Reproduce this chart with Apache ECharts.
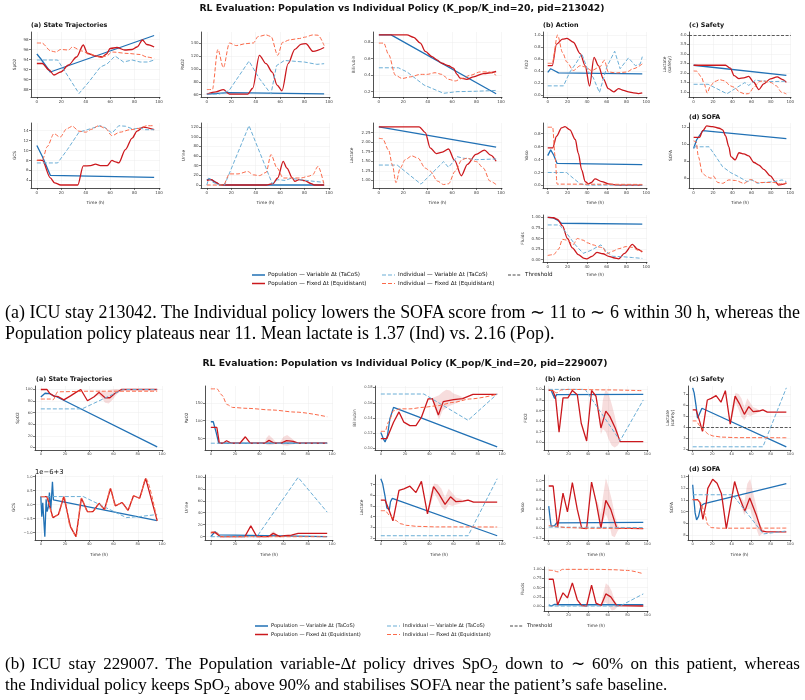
<!DOCTYPE html>
<html>
<head>
<meta charset="utf-8">
<title>RL Evaluation: Population vs Individual Policy</title>
<script src="https://cdn.jsdelivr.net/npm/echarts@6/dist/echarts.min.js"></script>
<style>
  body { margin: 0; background: #fff; }
  #wrap { position: relative; width: 805px; height: 700px; }
  #main { position: absolute; left: 0; top: 0; width: 805px; height: 700px; }
  .cap { position: absolute; left: 5px; width: 795px; font-family: "Liberation Serif", "Times New Roman", serif;
         font-size: 17px; line-height: 20.5px; color: #000; }
  .cap .l1 { white-space: nowrap; text-align: justify; text-align-last: justify; }
  .cap .l2 { white-space: nowrap; }
  .cap sub { font-size: 0.7em; line-height: 0; vertical-align: -0.3em; }
</style>
</head>
<body>
<div id="wrap">
  <div id="main"></div>
  <div class="cap" style="top:302px; font-size:17.9px">
    <div class="l1">(a) ICU stay 213042. The Individual policy lowers the SOFA score from ∼ 11 to ∼ 6 within 30 h, whereas the</div>
    <div class="l2">Population policy plateaus near 11. Mean lactate is 1.37 (Ind) vs. 2.16 (Pop).</div>
  </div>
  <div class="cap" style="top:654px">
    <div class="l1">(b) ICU stay 229007. The Population variable-Δ<i>t</i> policy drives SpO<sub>2</sub> down to ∼ 60% on this patient, whereas</div>
    <div class="l2">the Individual policy keeps SpO<sub>2</sub> above 90% and stabilises SOFA near the patient’s safe baseline.</div>
  </div>
</div>

<script type="text/javascript">
// shared x ticks (hours)
const X_TICKS = [0, 20, 40, 60, 80, 100];
const THRESHOLD = 4;

// ---------- patient 213042 (figure a) ----------
// PV = population variable dt, PF = population fixed dt, IV = individual variable dt, IF = individual fixed dt
const A_SPO2_PV = [[0,95.1],[3,94.2],[11,91.5],[96,98.8]];
const A_SPO2_PF = [[0,93.2],[4.5,93.2],[10,91.9],[14,90.9],[19.5,91.5],[26,92.9],[32.5,94.5],[38,96.9],[41.5,95.2],[48,94.7],[53.5,94.5],[57,95.1],[60,96.2],[65.5,96.4],[72,95.9],[78,96.0],[82,96.5],[86.5,97.9],[90,97.0],[96,96.5]];
const A_SPO2_IV = [[0,93.9],[17,93.9],[34.5,87.2],[42.5,89.5],[52,92.5],[57.5,93.1],[64,94.7],[71,93.5],[78,93.9],[84.5,93.5],[91,93.5],[96,93.9]];
const A_SPO2_IF = [[0,97.3],[4,97.3],[11.5,95.7],[15.5,95.5],[19.5,96.0],[26,95.9],[29,96.5],[37,95.7],[41,95.3],[52,94.5],[57,94.7],[61.5,95.5],[75,95.2],[84.5,95.0],[90,94.5],[96,94.2]];

const A_PAO2_PV = [[0,61],[18,63.3],[96,61.3]];
const A_PAO2_PF = [[0,61],[7.5,64.5],[13.5,68],[18.5,61],[33.5,61],[37.5,70],[43,121],[48.5,108],[53.5,95],[57.5,75],[61.5,66],[66.5,108],[72,130],[77,138],[81,139],[87,127],[96,133]];
const A_PAO2_IV = [[0,61],[10,61],[18,66],[34.5,112],[43,85],[52.5,61],[57,105],[63.5,113],[70,112],[80,110.5],[90,107],[96,108]];
const A_PAO2_IF = [[0,68],[4.5,68],[9,130],[13.5,102],[18.5,140],[24,136],[32,139],[38,140],[42,150],[48.5,152.5],[52.5,150],[58,121],[62,141],[68,145],[76,147],[80,149],[87,152.5],[91,152],[96,136]];

const A_BILI_PV = [[0,0.89],[10,0.89],[96,0.175]];
const A_BILI_PF = [[0,0.89],[23,0.89],[28.5,0.86],[34,0.79],[38,0.69],[43.5,0.625],[47.5,0.585],[51.5,0.545],[57,0.515],[61,0.485],[64,0.41],[66.5,0.365],[72,0.35],[77.5,0.38],[85.5,0.42],[96,0.445]];
const A_BILI_IV = [[0,0.49],[16,0.49],[23,0.44],[37,0.28],[53,0.18],[64,0.2],[80,0.205],[96,0.215]];
const A_BILI_IF = [[0,0.79],[4,0.79],[8,0.65],[13.5,0.40],[19,0.36],[26,0.38],[34,0.41],[39.5,0.41],[46,0.43],[51.5,0.41],[57,0.35],[62.5,0.33],[68,0.36],[75,0.40],[83,0.44],[90,0.44],[96,0.40]];

const A_FIO2_PV = [[0,0.38],[3,0.44],[6.5,0.41],[11,0.37],[96,0.355]];
const A_FIO2_PF = [[0,0.49],[4.5,0.49],[9,0.85],[15,0.93],[19.5,0.945],[26,0.88],[33,0.69],[38,0.49],[42.5,0.15],[47,0.63],[51.5,0.49],[56.5,0.27],[61.5,0.11],[67,0.055],[72,0.11],[77,0.08],[82,0.055],[87,0.04],[92,0.027],[96,0.04]];
const A_FIO2_IV = [[0,0.155],[16,0.155],[22.5,0.385],[29.5,0.55],[34.5,0.69],[41.5,0.385],[46,0.30],[52.5,0.045],[60,0.47],[68,0.73],[73.5,0.44],[82,0.62],[89,0.49],[94,0.52],[96,0.64]];
const A_FIO2_IF = [[0,0.53],[4.5,0.53],[10,1.0],[15,0.71],[19.5,0.55],[26,0.41],[33,0.49],[38,0.47],[44.5,0.41],[53,0.47],[57.5,0.58],[61.5,0.385],[70,0.37],[80,0.385],[87,0.44],[96,0.52]];

const A_LAC_PV = [[0,2.40],[96,1.87]];
const A_LAC_PF = [[0,2.40],[33,2.40],[38,2.25],[42,1.85],[47,1.70],[52,1.74],[57,1.82],[62,1.52],[67.5,1.12],[72.5,1.42],[79.5,1.68],[86.5,1.79],[91.5,1.66],[96,1.50]];
const A_LAC_IV = [[0,1.40],[15,1.40],[34.5,0.90],[42,1.14],[53,1.49],[57,1.34],[61,1.49],[64,1.62],[69,1.58],[80,1.54],[96,1.56]];
const A_LAC_IF = [[0,2.10],[3,2.09],[8,1.79],[11,1.41],[14,0.94],[17.5,1.32],[21.5,1.54],[27,1.64],[32,1.58],[38,1.32],[42,1.24],[48,0.98],[53,0.89],[57,0.91],[62.5,1.24],[68,1.54],[72,1.58],[80,1.49],[85.5,1.32],[91,0.98],[96,0.89]];

const A_GCS_PV = [[0,11.0],[1.2,10.85],[4.5,8.8],[11,5.0],[96,4.6]];
const A_GCS_PF = [[0,8.0],[4.5,8.0],[11,4.5],[14.5,3.5],[19.5,3.05],[33.5,3.05],[38,6.9],[44,6.95],[48,7.25],[52,6.95],[57.5,6.95],[61.5,8.0],[64.5,7.7],[67,7.5],[72.5,10.2],[78,12.5],[82,13.9],[87,14.7],[96,14.2]];
const A_GCS_IV = [[0,7.5],[17,7.5],[25,10.2],[34.5,13.7],[44,14.4],[52,15.0],[56,14.6],[61.5,13.5],[67,15.0],[72.5,14.9],[79,14.3],[84.5,14.6],[88.5,14.2],[96,14.2]];
const A_GCS_IF = [[0,8.0],[4.5,8.1],[8.5,10.8],[14,13.4],[19,12.7],[24.5,14.4],[29,14.9],[34.5,13.9],[40,13.7],[45,14.3],[50.5,15.0],[56,14.5],[61.5,13.0],[68,13.7],[76.5,14.2],[84.5,14.5],[90,15.0],[96,15.0]];

const A_URINE_PV = [[0,10],[2,13],[5,9],[10.5,0],[96,0]];
const A_URINE_PF = [[0,9.5],[3.5,11],[7.5,5.5],[11,0],[48.5,0],[54,2.8],[58,14.5],[62.5,49],[65.5,35],[70,14.5],[72,7.5],[75.5,11],[80,9],[85.5,2.8],[88,0],[96,0]];
const A_URINE_IV = [[0,0],[1.5,14],[5,5.5],[10.5,0],[14.5,0],[34.5,123],[53.5,3],[58,11],[64,9.5],[69,14],[76,11],[81.5,9.5],[88,7.5],[96,5.5]];
const A_URINE_IF = [[0,0],[13.5,0],[18.5,23],[25.5,23],[33.5,28],[38,21],[43,19.5],[48.5,26],[52.5,63],[57.5,35],[62.5,14.5],[69,14.5],[77,14.5],[83,18],[86.5,21],[91,38.5],[96,0]];

const A_VASO_PV = [[0,0.46],[3,0.55],[6,0.47],[9.5,0.34],[96,0.32]];
const A_VASO_PF = [[0,0.58],[5,0.58],[9,0.76],[14,0.89],[17.5,0.91],[22.5,0.86],[28,0.71],[31,0.50],[34.5,0.24],[38,0.06],[41.5,0.025],[44.5,0.045],[48,0.10],[55,0.06],[61.5,0.025],[70,0.005],[96,0.005]];
const A_VASO_IV = [[0,0.20],[19,0.20],[26,0.11],[33,0.025],[40,0.005],[96,0.005]];
const A_VASO_IF = [[0,0.90],[5,0.90],[7.5,0.45],[9.5,0.02],[96,0.015]];

const A_SOFA_PV = [[0,9.5],[3,10.5],[9.5,11.6],[96,10.65]];
const A_SOFA_PF = [[0,10.8],[6,10.8],[9.5,11.6],[13.5,12.15],[19.5,12.08],[26.5,11.88],[30,11.7],[33,11.0],[36.5,9.7],[38.5,8.55],[43,8.15],[47,9.0],[52,8.86],[57,8.63],[62.5,7.85],[67.5,7.55],[72.5,7.05],[79.5,6.27],[84.5,5.6],[88,5.2],[93,5.3],[96,5.45]];
const A_SOFA_IV = [[0,9.7],[16,9.7],[23,8.55],[30,7.35],[38.5,6.65],[45,6.27],[55.5,5.6],[60.5,5.8],[66,5.4],[72.5,5.5],[83,5.6],[91.5,5.8],[96,5.6]];
const A_SOFA_IF = [[0,10.4],[2.5,10.3],[5,8.5],[9,6.6],[13.5,6.2],[18,6.0],[20.5,6.25],[25,5.5],[30,5.4],[36.5,5.8],[43.5,5.73],[52,5.4],[59,5.85],[66,5.5],[74,5.5],[83,5.5],[90,5.33],[96,5.4]];

const A_FLUIDS_PV = [[0,1.0],[5,0.99],[10,0.93],[14,0.86],[96,0.84]];
const A_FLUIDS_PF = [[0,1.0],[6,0.99],[10,0.95],[15,0.80],[20,0.50],[25,0.28],[31,0.12],[37,0.03],[40,0.02],[45,0.08],[50,0.17],[56,0.14],[62,0.08],[68,0.04],[72,0.02],[78,0.15],[86,0.36],[91,0.25],[96,0.18]];
const A_FLUIDS_IV = [[0,0.82],[12,0.82],[20,0.60],[28,0.35],[36,0.15],[44,0.22],[50,0.30],[54,0.35],[60,0.18],[66,0.08],[76,0.07],[86,0.05],[96,0.03]];
const A_FLUIDS_IF = [[0,0.10],[6,0.12],[11,0.25],[15,0.48],[20,0.46],[26,0.36],[30,0.50],[36,0.46],[40,0.40],[46,0.35],[52,0.30],[56,0.28],[60,0.14],[66,0.20],[72,0.26],[80,0.31],[86,0.29],[92,0.22],[96,0.20]];

// ---------- patient 229007 (figure b) ----------
const B_SPO2_PV = [[0,87],[3.5,93.5],[7,93],[10,89.5],[13,87.5],[96,1]];
const B_SPO2_PF = [[0,100],[5,100],[7.5,93],[11,88.5],[14.5,87.5],[19,82],[24.5,89],[29,95],[33,100],[38.5,80.5],[44,87.5],[48,95],[53,85.7],[57,85.7],[61,93],[66.5,100],[96,100]];
const B_SPO2_IV = [[0,66.5],[34,66.5],[68,100],[96,100]];
const B_SPO2_IF = [[0,83.5],[8,83.5],[10,82],[14,96],[40,97],[96,97]];
// [t, lower, upper] of the pink band around the population fixed-dt run
const B_SPO2_BAND = [[44,87.5,87.5],[46,89,93],[48,90,99],[50,86,98],[53,77,95],[56,76,99],[59,82,100],[62,90,101],[65,97,100],[67,100,100]];

const B_PAO2_PV = [[0,97],[2,97],[4.5,66],[6.5,37],[96,37]];
const B_PAO2_PF = [[0,81],[5,81],[7,37],[10,37],[13,44],[17,37],[24,37],[28.5,55],[32.5,37],[44.5,37],[48,45],[52.5,37],[58.5,38],[62.5,44],[68,42],[72,37],[96,37]];
const B_PAO2_IV = [[0,37],[96,37]];
const B_PAO2_IF = [[0,189],[5,189],[9,172],[13.5,145],[18,137],[30,134.5],[50,130],[70,124],[96,111]];
const B_PAO2_BAND = [[44,37,37],[46,33,52],[48,31,60],[51,33,50],[54,36,39],[57,36,40],[60,31,55],[63,30,60],[66,33,52],[69,35,44],[72,37,38]];

const B_BILI_PV = [[0,0.121],[2,0.113],[3.5,0.1085],[5.5,0.117],[7.5,0.139],[10.5,0.154],[96,0.102]];
const B_BILI_PF = [[0,0.113],[5,0.113],[10.5,0.1345],[15,0.148],[19,0.1345],[24,0.130],[29,0.130],[33.5,0.141],[39,0.165],[42.5,0.1655],[47.5,0.144],[51.5,0.1615],[60,0.164],[67.5,0.1655],[76,0.171],[96,0.171]];
const B_BILI_IV = [[0,0.1715],[35.5,0.1715],[72,0.137],[96,0.1715]];
const B_BILI_IF = [[0,0.1225],[3.5,0.1225],[6.5,0.135],[10.5,0.1495],[16,0.152],[24,0.152],[35,0.154],[46,0.156],[60,0.1605],[73.5,0.165],[96,0.171]];
const B_BILI_BAND = [[42,0.165,0.166],[45,0.150,0.168],[48,0.138,0.170],[51,0.150,0.174],[54,0.153,0.177],[57,0.156,0.176],[60,0.158,0.172],[64,0.161,0.170],[68,0.164,0.167],[70,0.167,0.168]];

const B_FIO2_PV = [[0,0.98],[2.5,0.98],[6,0.83],[8,0.90],[96,0.905]];
const B_FIO2_PF = [[0,0.98],[4,0.98],[7,0.84],[10.5,0.19],[14.5,0.84],[19.5,0.84],[24,0.98],[29,0.90],[33,0.36],[38.5,0.025],[43.5,0.98],[48,0.87],[53,0.27],[58,0.59],[62,0.49],[67.5,0.27],[72.5,0.012],[96,0.012]];
const B_FIO2_IV = [[0,1.0],[37,1.0],[72.5,0.03],[96,0.80]];
const B_FIO2_IF = [[0,1.0],[4,0.97],[8,0.935],[13,0.99],[20,1.0],[60,0.99],[96,0.975]];
const B_FIO2_BAND = [[48,0.87,0.87],[50,0.55,0.75],[53,0.15,0.45],[55,0.25,0.8],[58,0.2,1.02],[61,0.05,0.9],[64,-0.06,0.72],[67,-0.1,0.5],[70,-0.06,0.22],[72.5,0.012,0.012]];

const B_LAC_PV = [[0,7.55],[1.5,7.1],[3.5,5.9],[5,4.8],[7,4.65],[8,5.4],[9.5,5.7],[11,5.72],[96,2.2]];
const B_LAC_PF = [[0,5.55],[3.5,5.55],[7,4.55],[10,3.6],[13,5.3],[15,6.45],[19,6.6],[24,6.85],[29,6.25],[33.5,7.3],[38.5,4.25],[43.5,6.8],[48,6.1],[53,5.15],[57.5,5.85],[62,5.4],[68,5.45],[72,5.55],[76.5,5.35],[96,5.35]];
const B_LAC_IV = [[0,2.2],[72,2.2],[96,7.55]];
const B_LAC_IF = [[0,4.55],[3.5,4.55],[7.5,4.1],[12,3.65],[16.5,3.32],[21.5,3.17],[30,3.08],[46,3.03],[96,3.02]];
const B_LAC_BAND = [[38.5,4.25,4.25],[41,5.0,6.2],[44,6.2,7.1],[47,5.6,7.0],[50,4.9,6.6],[53,4.6,5.8],[56,5.1,6.6],[59,5.0,6.2],[62,5.1,5.8],[65,5.2,5.7],[68,5.35,5.55],[72,5.5,5.6]];

// GCS values in units of 1e-6 around an offset of 3
const B_GCS_PV = [[0,0.29],[0.8,-0.43],[1.6,0.07],[3.3,-1.14],[4.4,0.19],[5.2,-0.25],[6.3,-0.07],[7.1,0.43],[8.2,-0.19],[9.6,0.82],[10.4,0.17],[96,-0.57]];
const B_GCS_PF = [[0,0.29],[5,0.29],[10,-0.46],[14.5,-0.35],[19,0.29],[24.5,-0.79],[29,-1.14],[33.5,0.23],[38.5,-0.25],[43,-0.25],[48,0.05],[52.5,-0.17],[57.5,0.58],[61.5,-0.04],[67,0.08],[72,-0.2],[76.5,0.32],[81.5,0.23],[86.5,0.94],[96,-0.57]];
const B_GCS_IV = [[0,0.29],[35,0.29],[70.5,-0.46],[82,-0.42],[96,-0.35]];
const B_GCS_IF = B_GCS_PF; // both fixed-dt runs coincide on this patient

const B_URINE_PV = [[0,0],[3.5,8.5],[6.5,3],[8,0],[96,0]];
const B_URINE_PF = [[0,7],[3.5,7],[8,0],[28,0],[33,18],[38,0],[47.5,0],[51.5,5.5],[57,0],[61,1.7],[66.5,2.8],[72,5.5],[96,5.5]];
const B_URINE_IV = [[0,0],[38,0],[72,99],[96,41]];
const B_URINE_IF = [[0,6],[2,8],[5,7],[8,0],[96,0]];
const B_URINE_BAND = [[47.5,0,0],[50,1,7],[52,2,9],[55,0,3],[57,0,0]];

const B_VASO_PV = [[0,0.47],[1.5,0.2],[2.5,0.05],[6,0.06],[8,0.12],[10,0.13],[96,0.13]];
const B_VASO_PF = [[0,0.89],[4.5,0.89],[9,0.03],[14.5,0.74],[19,0.35],[24,0.96],[29,0.40],[33.5,0.01],[38.5,0.0],[43.5,0.97],[48,0.57],[53,0.01],[58,0.59],[63,0.40],[69,0.01],[96,0.0]];
const B_VASO_IV = [[0,0.03],[96,0.02]];
const B_VASO_IF = [[0,0.06],[5,0.05],[10,0.035],[18,0.02],[40,0.005],[96,0.0]];
const B_VASO_BAND = [[48,0.57,0.57],[50,0.35,0.55],[53,0.0,0.3],[55,0.15,0.65],[58,0.3,1.05],[61,0.15,0.85],[64,-0.15,0.6],[67,-0.18,0.3],[70,-0.05,0.08],[72,0,0]];

const B_SOFA_PV = [[0,12.3],[1,11.3],[2.5,9.9],[4,9.3],[6,9.6],[8.5,10.5],[12,10.7],[96,12.4]];
const B_SOFA_PF = [[0,11.03],[5,11.03],[7.5,10.8],[10.5,9.35],[14,10.8],[15.5,12.0],[20.5,12.78],[25,12.44],[29.5,11.54],[34.5,8.55],[43,12.58],[47.5,11.3],[53.5,10.05],[58.5,11.17],[65,9.77],[70.5,8.36],[76,8.28],[96,8.28]];
const B_SOFA_IV = [[0,11.45],[41,11.45],[72.5,8.1],[96,8.35]];
const B_SOFA_IF = [[0,11.05],[5,11.0],[8.5,10.75],[12,9.9],[15.5,8.9],[19,8.64],[27.5,8.59],[96,8.6]];
const B_SOFA_BAND = [[47.5,11.3,11.3],[50,10.4,11.2],[53,9.7,10.8],[56,10.2,12.4],[59,10.2,12.8],[62,9.4,11.6],[65,8.6,10.6],[68,7.9,9.2],[71,8.1,8.6],[74,8.25,8.3]];

const B_FLUIDS_PV = [[0,0.035],[2.5,0.0],[6,0.045],[8,0.06],[10.5,0.035],[96,0.035]];
const B_FLUIDS_PF = [[0,0.73],[4.5,0.73],[9,0.03],[14.5,0.36],[19,0.22],[24,0.63],[29,0.17],[33.5,0.01],[38.5,0.0],[43.5,0.57],[48,0.08],[53,0.01],[58,0.33],[63,0.25],[69,0.01],[96,0.0]];
const B_FLUIDS_IV = [[0,0.0],[72.5,0.0],[96,0.33]];
const B_FLUIDS_IF = [[0,0.98],[4,0.97],[9.5,0.93],[14,1.0],[50,1.0],[65,0.99],[80,0.97],[96,0.88]];
const B_FLUIDS_BAND = [[53,0.01,0.01],[55,0.05,0.3],[58,0.1,0.62],[61,0.0,0.55],[64,-0.12,0.4],[67,-0.1,0.15],[70,-0.02,0.03],[72,0,0]];

// ---------- styling ----------
const FONT = '"DejaVu Sans", sans-serif';
const NAMES = [
    'Population — Variable Δt (TaCoS)',
    'Population — Fixed Δt (Equidistant)',
    'Individual — Variable Δt (TaCoS)',
    'Individual — Fixed Δt (Equidistant)'
];
const LINE_STYLES = [
    { color: '#2171b5', width: 1.3, type: 'solid' },
    { color: '#cb181d', width: 1.3, type: 'solid' },
    { color: '#6baed6', width: 1.0, type: [4, 2] },
    { color: '#fb6a4a', width: 1.0, type: [4, 2] }
];

const fmt = dec => v => (+v).toFixed(dec).replace('-', '\u2212');

const FIG_A = {
    cols: [[31, 160], [201, 330], [373, 502], [543, 647], [689, 791]],
    rows: [[32, 97], [123, 188], [215, 262]],
    tickFont: 4, smooth: [false, 0.3, false, 0.3]
};
const FIG_B = {
    cols: [[35, 163], [205, 333], [375, 503], [544, 648], [688, 791]],
    rows: [[386, 450], [475, 540], [567, 611]],
    tickFont: 3.7, smooth: [false, false, false, 0.3]
};

const grids = [], xAxes = [], yAxes = [], series = [];

// shaded spread around the population fixed-dt run, drawn as one polygon in data coordinates
function bandSeries(i, band) {
    return {
        type: 'custom', xAxisIndex: i, yAxisIndex: i, silent: true, z: 1, clip: true,
        data: band, encode: { x: 0, y: [1, 2] },
        renderItem: function (params, api) {
            if (params.dataIndex !== 0) return null;
            const upper = band.map(d => api.coord([d[0], d[2]]));
            const lower = band.map(d => api.coord([d[0], d[1]])).reverse();
            return {
                type: 'polygon',
                shape: { points: upper.concat(lower) },
                style: { fill: 'rgba(203,24,29,0.15)' }
            };
        }
    };
}

function addPanel(fig, p) {
    const i = grids.length;
    const [l, r] = fig.cols[p.c];
    const [t, b] = fig.rows[p.r];
    grids.push({ left: l, top: t, width: r - l, height: b - t, outerBoundsMode: 'none' });

    const axisLine = { show: true, onZero: false, lineStyle: { color: '#262626', width: 0.8 } };
    const tick = { show: true, length: 2, lineStyle: { color: '#262626', width: 0.6 } };
    const split = { show: true, lineStyle: { color: '#ececec', width: 0.5 } };
    const nameStyle = { fontSize: 4.3, color: '#333', fontFamily: FONT, lineHeight: 5 };

    xAxes.push({
        type: 'value', gridIndex: i, min: -4.8, max: 100.8,
        name: p.time ? 'Time (h)' : '', nameLocation: 'middle', nameGap: p.tg || 12.5,
        nameTextStyle: nameStyle, axisLine: axisLine,
        axisTick: Object.assign({ customValues: X_TICKS }, tick),
        axisLabel: { customValues: X_TICKS, fontSize: fig.tickFont, color: '#444', margin: 2.5, fontFamily: FONT, formatter: fmt(0) },
        splitLine: split
    });
    yAxes.push({
        type: 'value', gridIndex: i, min: p.y[0], max: p.y[1],
        name: p.name, nameLocation: 'middle', nameGap: p.gap, nameRotate: 90,
        nameTextStyle: nameStyle, axisLine: axisLine,
        axisTick: Object.assign({ customValues: p.ticks }, tick),
        axisLabel: { customValues: p.ticks, fontSize: fig.tickFont, color: '#444', margin: 2.5, fontFamily: FONT, formatter: fmt(p.dec) },
        splitLine: split
    });

    if (p.band) series.push(bandSeries(i, p.band));

    p.lines.forEach((d, k) => {
        const st = LINE_STYLES[k];
        const s = {
            type: 'line', name: NAMES[k], xAxisIndex: i, yAxisIndex: i, data: d,
            symbol: 'none', showSymbol: false, smooth: fig.smooth[k], smoothMonotone: 'x',
            lineStyle: { color: st.color, width: st.width, type: st.type },
            itemStyle: { color: st.color }, silent: true, z: 2
        };
        if (k === 0 && p.thr) {
            s.markLine = {
                silent: true, symbol: ['none', 'none'], label: { show: false },
                lineStyle: { color: '#333', type: [3, 1.6], width: 0.8 },
                data: [{ yAxis: THRESHOLD }]
            };
        }
        series.push(s);
    });
}

// figure (a)
addPanel(FIG_A, { c: 0, r: 0, name: 'SpO2', gap: 13.5, y: [86.5, 99.5], ticks: [88, 90, 92, 94, 96, 98], dec: 0, lines: [A_SPO2_PV, A_SPO2_PF, A_SPO2_IV, A_SPO2_IF] });
addPanel(FIG_A, { c: 1, r: 0, name: 'PaO2', gap: 15.5, y: [56.5, 157], ticks: [60, 80, 100, 120, 140], dec: 0, lines: [A_PAO2_PV, A_PAO2_PF, A_PAO2_IV, A_PAO2_IF] });
addPanel(FIG_A, { c: 2, r: 0, name: 'Bilirubin', gap: 16.5, y: [0.135, 0.925], ticks: [0.2, 0.4, 0.6, 0.8], dec: 1, lines: [A_BILI_PV, A_BILI_PF, A_BILI_IV, A_BILI_IF] });
addPanel(FIG_A, { c: 3, r: 0, name: 'FiO2', gap: 13.5, y: [-0.03, 1.05], ticks: [0, 0.2, 0.4, 0.6, 0.8, 1.0], dec: 1, lines: [A_FIO2_PV, A_FIO2_PF, A_FIO2_IV, A_FIO2_IF] });
addPanel(FIG_A, { c: 4, r: 0, name: 'Lactate\n(safety)', gap: 16.5, y: [0.73, 4.15], ticks: [1.0, 1.5, 2.0, 2.5, 3.0, 3.5, 4.0], dec: 1, thr: true, lines: [A_LAC_PV, A_LAC_PF, A_LAC_IV, A_LAC_IF] });
addPanel(FIG_A, { c: 0, r: 1, name: 'GCS', gap: 13.5, y: [2.45, 15.55], ticks: [4, 6, 8, 10, 12, 14], dec: 0, time: true, lines: [A_GCS_PV, A_GCS_PF, A_GCS_IV, A_GCS_IF] });
addPanel(FIG_A, { c: 1, r: 1, name: 'Urine', gap: 14.5, y: [-6.2, 128.5], ticks: [0, 20, 40, 60, 80, 100, 120], dec: 0, time: true, lines: [A_URINE_PV, A_URINE_PF, A_URINE_IV, A_URINE_IF] });
addPanel(FIG_A, { c: 2, r: 1, name: 'Lactate', gap: 18.5, y: [0.80, 2.50], ticks: [1.0, 1.25, 1.5, 1.75, 2.0, 2.25], dec: 2, time: true, lines: [A_LAC_PV, A_LAC_PF, A_LAC_IV, A_LAC_IF] });
addPanel(FIG_A, { c: 3, r: 1, name: 'Vaso', gap: 13.5, y: [-0.04, 0.965], ticks: [0, 0.2, 0.4, 0.6, 0.8], dec: 1, time: true, lines: [A_VASO_PV, A_VASO_PF, A_VASO_IV, A_VASO_IF] });
addPanel(FIG_A, { c: 4, r: 1, name: 'SOFA', gap: 15.5, y: [4.85, 12.5], ticks: [6, 8, 10, 12], dec: 0, time: true, lines: [A_SOFA_PV, A_SOFA_PF, A_SOFA_IV, A_SOFA_IF] });
addPanel(FIG_A, { c: 3, r: 2, name: 'Fluids', gap: 17.5, y: [-0.055, 1.055], ticks: [0, 0.25, 0.5, 0.75, 1.0], dec: 2, time: true, tg: 10.5, lines: [A_FLUIDS_PV, A_FLUIDS_PF, A_FLUIDS_IV, A_FLUIDS_IF] });

// figure (b)
addPanel(FIG_B, { c: 0, r: 0, name: 'SpO2', gap: 14.5, y: [-4.5, 106], ticks: [0, 20, 40, 60, 80, 100], dec: 0, band: B_SPO2_BAND, lines: [B_SPO2_PV, B_SPO2_PF, B_SPO2_IV, B_SPO2_IF] });
addPanel(FIG_B, { c: 1, r: 0, name: 'PaO2', gap: 15.5, y: [18, 197], ticks: [50, 100, 150], dec: 0, band: B_PAO2_BAND, lines: [B_PAO2_PV, B_PAO2_PF, B_PAO2_IV, B_PAO2_IF] });
addPanel(FIG_B, { c: 2, r: 0, name: 'Bilirubin', gap: 17.5, y: [0.098, 0.182], ticks: [0.10, 0.12, 0.14, 0.16, 0.18], dec: 2, band: B_BILI_BAND, lines: [B_BILI_PV, B_BILI_PF, B_BILI_IV, B_BILI_IF] });
addPanel(FIG_B, { c: 3, r: 0, name: 'FiO2', gap: 15.5, y: [-0.146, 1.064], ticks: [0, 0.2, 0.4, 0.6, 0.8, 1.0], dec: 1, band: B_FIO2_BAND, lines: [B_FIO2_PV, B_FIO2_PF, B_FIO2_IV, B_FIO2_IF] });
addPanel(FIG_B, { c: 4, r: 0, name: 'Lactate\n(safety)', gap: 12.5, y: [1.91, 7.72], ticks: [2, 3, 4, 5, 6, 7], dec: 0, thr: true, band: B_LAC_BAND, lines: [B_LAC_PV, B_LAC_PF, B_LAC_IV, B_LAC_IF] });
addPanel(FIG_B, { c: 0, r: 1, name: 'GCS', gap: 18.5, y: [-1.26, 1.06], ticks: [-1.0, -0.5, 0, 0.5, 1.0], dec: 1, time: true, lines: [B_GCS_PV, B_GCS_PF, B_GCS_IV, B_GCS_IF] });
addPanel(FIG_B, { c: 1, r: 1, name: 'Urine', gap: 15.5, y: [-5.5, 103], ticks: [0, 20, 40, 60, 80, 100], dec: 0, time: true, band: B_URINE_BAND, lines: [B_URINE_PV, B_URINE_PF, B_URINE_IV, B_URINE_IF] });
addPanel(FIG_B, { c: 2, r: 1, name: 'Lactate', gap: 10.5, y: [1.8, 7.9], ticks: [2, 3, 4, 5, 6, 7], dec: 0, time: true, band: B_LAC_BAND, lines: [B_LAC_PV, B_LAC_PF, B_LAC_IV, B_LAC_IF] });
addPanel(FIG_B, { c: 3, r: 1, name: 'Vaso', gap: 18.5, y: [-0.24, 1.12], ticks: [-0.2, 0, 0.2, 0.4, 0.6, 0.8, 1.0], dec: 1, time: true, band: B_VASO_BAND, lines: [B_VASO_PV, B_VASO_PF, B_VASO_IV, B_VASO_IF] });
addPanel(FIG_B, { c: 4, r: 1, name: 'SOFA', gap: 13.5, y: [7.58, 13.14], ticks: [8, 9, 10, 11, 12, 13], dec: 0, time: true, band: B_SOFA_BAND, lines: [B_SOFA_PV, B_SOFA_PF, B_SOFA_IV, B_SOFA_IF] });
addPanel(FIG_B, { c: 3, r: 2, name: 'Fluids', gap: 18.5, y: [-0.136, 1.064], ticks: [0, 0.25, 0.5, 0.75, 1.0], dec: 2, time: true, band: B_FLUIDS_BAND, lines: [B_FLUIDS_PV, B_FLUIDS_PF, B_FLUIDS_IV, B_FLUIDS_IF] });

// titles, panel labels, legends
const graphics = [];
function label(x, y, text, size, bold, align) {
    graphics.push({
        type: 'text', x: x, y: y, silent: true,
        style: { text: text, fontSize: size, fontWeight: bold ? 'bold' : 'normal', fontFamily: FONT, fill: '#111', align: align || 'left', verticalAlign: 'middle' }
    });
}
label(402, 9, 'RL Evaluation: Population vs Individual Policy (K_pop/K_ind=20, pid=213042)', 9.3, true, 'center');
label(405, 364, 'RL Evaluation: Population vs Individual Policy (K_pop/K_ind=20, pid=229007)', 9.3, true, 'center');
label(31, 25, '(a) State Trajectories', 6.4, true);
label(543, 25, '(b) Action', 6.4, true);
label(689, 25, '(c) Safety', 6.4, true);
label(689, 117, '(d) SOFA', 6.4, true);
label(36, 379, '(a) State Trajectories', 6.4, true);
label(545, 379, '(b) Action', 6.4, true);
label(689, 379, '(c) Safety', 6.4, true);
label(689, 469, '(d) SOFA', 6.4, true);
label(35, 472, '1e\u22126+3', 6.8, false);

function legend(xs, ys, size) {
    const slots = [[xs[0], ys[0]], [xs[0], ys[1]], [xs[1], ys[0]], [xs[1], ys[1]]];
    slots.forEach(([x, y], k) => {
        const st = LINE_STYLES[k];
        graphics.push({
            type: 'line', silent: true, shape: { x1: x, y1: y, x2: x + 13, y2: y },
            style: { stroke: st.color, lineWidth: st.width + 0.2, lineDash: st.type === 'solid' ? null : st.type }
        });
        label(x + 16, y, NAMES[k], size, false);
    });
    graphics.push({
        type: 'line', silent: true, shape: { x1: xs[2], y1: ys[0], x2: xs[2] + 13, y2: ys[0] },
        style: { stroke: '#333', lineWidth: 0.9, lineDash: [3, 1.6] }
    });
    label(xs[2] + 17, ys[0], 'Threshold', size, false);
}
legend([252, 382, 508], [275, 283.5], 5.6);
legend([255, 387, 510], [626, 634.5], 5.1);

const chart = echarts.init(document.getElementById('main'));
chart.setOption({
    animation: false,
    backgroundColor: '#fff',
    grid: grids,
    xAxis: xAxes,
    yAxis: yAxes,
    series: series,
    graphic: { elements: graphics }
});
</script>
</body>
</html>
